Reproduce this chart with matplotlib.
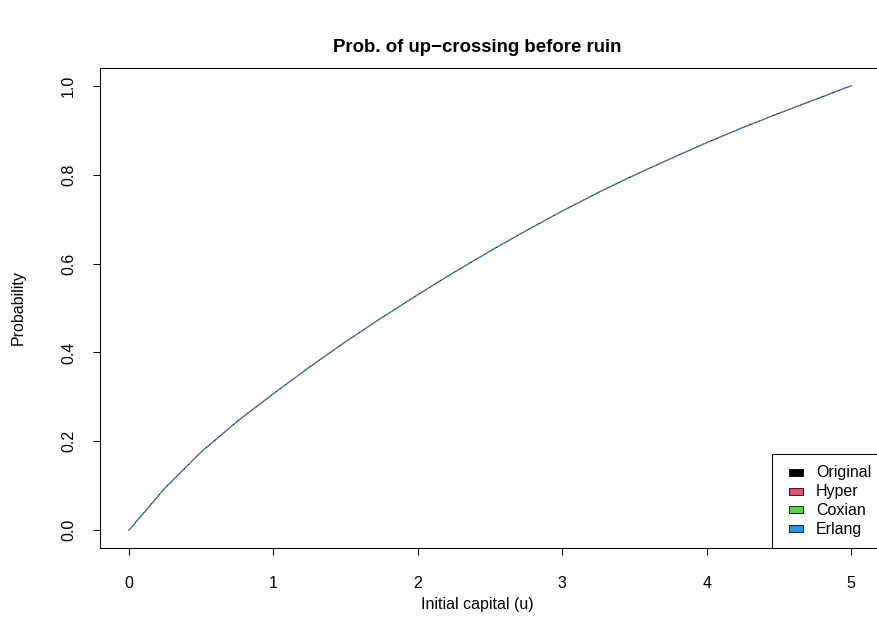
import matplotlib
matplotlib.use("Agg")
import matplotlib.pyplot as plt
from matplotlib.lines import Line2D
from matplotlib.path import Path

plt.rcParams['font.family'] = ['Liberation Sans', 'DejaVu Sans']

# initial capital u and probability of up-crossing before ruin
u = [0, 0.25, 0.5, 0.75, 1, 1.25, 1.5, 1.75, 2, 2.25, 2.5, 2.75,
     3, 3.25, 3.5, 3.75, 4, 4.25, 4.5, 4.75, 5]
prob = [0, 0.095, 0.176, 0.245, 0.307, 0.367, 0.424, 0.478, 0.530, 0.580, 0.628, 0.674,
        0.718, 0.760, 0.799, 0.836, 0.872, 0.906, 0.938, 0.969, 1.0]

# the four approximations coincide with the original curve
series = ['Original', 'Hyper', 'Coxian', 'Erlang']
colors = ['black', '#DF536B', '#61D04F', '#2297E6']
dashes = [None, (0, (3, 3)), (0, (0.8, 2.2)), (0, (0.8, 2.2, 3, 2.2))]

px = 0.72  # one pixel in points at dpi=100
fs = 16 * px

fig = plt.figure(figsize=(8.77, 6.4), dpi=100)
ax = fig.add_axes([100 / 877, 1 - 548 / 640, 780 / 877, 480 / 640])

for name, c, d in zip(series, colors, dashes):
    if d is None:
        ax.plot(u, prob, color=c, lw=1 * px, label=name)
    else:
        ax.plot(u, prob, color=c, lw=1 * px, linestyle=d, label=name)

ax.set_xlim(-0.2, 5.2)
ax.set_ylim(-0.04, 1.04)
ax.set_xticks([0, 1, 2, 3, 4, 5])
ax.set_yticks([0, 0.2, 0.4, 0.6, 0.8, 1.0])
ax.set_yticklabels(['0.0', '0.2', '0.4', '0.6', '0.8', '1.0'], rotation=90, va='center')
ax.tick_params(direction='out', length=7 * px, width=1 * px, labelsize=fs)
ax.tick_params(axis='x', pad=21 * px)
ax.tick_params(axis='y', pad=17 * px)
for s in ['left', 'bottom', 'top', 'right']:
    ax.spines[s].set_linewidth(1 * px)

fig.text(477 / 877, 1 - 47 / 640, 'Prob. of up\u2212crossing before ruin',
         fontsize=18.6 * px, fontweight='bold', ha='center', va='center')
fig.text(477 / 877, 1 - 604 / 640, 'Initial capital (u)', fontsize=fs,
         ha='center', va='center')
fig.text(18 / 877, 1 - 308 / 640, 'Probability', fontsize=fs, rotation=90,
         ha='center', va='center')

# R-style flat fill boxes in the legend
box = Path([(-1, -0.5), (1, -0.5), (1, 0.5), (-1, 0.5), (-1, -0.5)],
           [Path.MOVETO, Path.LINETO, Path.LINETO, Path.LINETO, Path.CLOSEPOLY])
handles = [Line2D([], [], linestyle='none', marker=box, markersize=14 * px,
                  markerfacecolor=c, markeredgecolor='black', markeredgewidth=0.8 * px)
           for c in colors]
leg = ax.legend(handles, series, loc='lower left',
                bbox_to_anchor=(772 / 877, 1 - 548 / 640), bbox_transform=fig.transFigure,
                borderaxespad=0, fontsize=fs, frameon=True, fancybox=False,
                edgecolor='black', framealpha=1, handlelength=1.6,
                handletextpad=0.45, labelspacing=0.24, borderpad=0.7)
leg.get_frame().set_linewidth(1 * px)

fig.savefig('out.png', dpi=100, facecolor='white')
